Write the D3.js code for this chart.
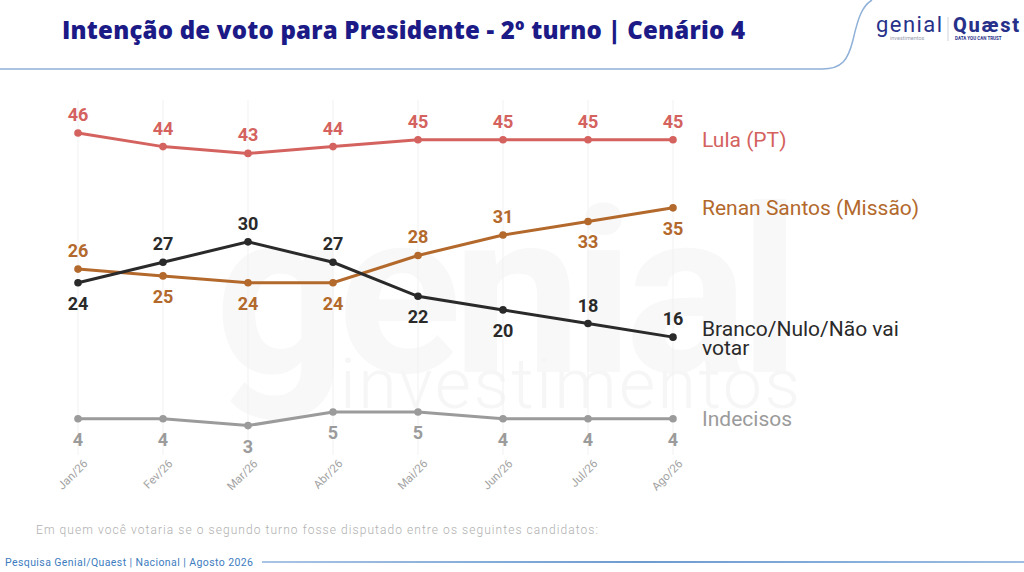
<!DOCTYPE html>
<html>
<head>
<meta charset="utf-8">
<script src="https://cdn.jsdelivr.net/npm/d3@7"></script>
<style>
  body { margin: 0; background: #fff; }
  svg { display: block; font-family: Roboto, "Noto Sans", sans-serif; }
</style>
</head>
<body>
<div id="chart"></div>
<script>
// data
const months = ['Jan/26', 'Fev/26', 'Mar/26', 'Abr/26', 'Mai/26', 'Jun/26', 'Jul/26', 'Ago/26'];
const lula = [46, 44, 43, 44, 45, 45, 45, 45];
const renan = [26, 25, 24, 24, 28, 31, 33, 35];
const branco = [24, 27, 30, 27, 22, 20, 18, 16];
const indecisos = [4, 4, 3, 5, 5, 4, 4, 4];
// label side for each point: 1 = above, -1 = below
const lulaSide = [1, 1, 1, 1, 1, 1, 1, 1];
const renanSide = [1, -1, -1, -1, 1, 1, -1, -1];
const brancoSide = [-1, 1, 1, 1, -1, -1, 1, 1];
const indecisosSide = [-1, -1, -1, -1, -1, -1, -1, -1];

const series = [
    {name: ['Lula (PT)'], values: lula, side: lulaSide, color: '#d4625e'},
    {name: ['Renan Santos (Missão)'], values: renan, side: renanSide, color: '#b3692c'},
    {name: ['Branco/Nulo/Não vai', 'votar'], values: branco, side: brancoSide, color: '#2a2a2a'},
    {name: ['Indecisos'], values: indecisos, side: indecisosSide, color: '#9b9b9b'}
];

const width = 1024, height = 572;
const svg = d3.select('#chart')
    .append('svg')
    .attr('width', width)
    .attr('height', height);

// watermark (very faint, behind everything)
svg.append('text')
    .attr('x', 215).attr('y', 372)
    .attr('font-size', 230)
    .attr('font-weight', 700)
    .attr('fill', '#f8f8f8')
    .attr('textLength', 585)
    .text('genial');
svg.append('text')
    .attr('x', 340).attr('y', 408)
    .attr('font-size', 70)
    .attr('font-weight', 300)
    .attr('fill', '#f6f6f6')
    .attr('textLength', 460)
    .text('investimentos');

// header
svg.append('text')
    .attr('x', 62).attr('y', 39)
    .attr('font-family', '"Open Sans", Roboto, sans-serif')
    .attr('font-size', 24)
    .attr('font-weight', 800)
    .attr('fill', '#1b1a86')
    .attr('textLength', 683)
    .text('Intenção de voto para Presidente - 2º turno | Cenário 4');

svg.append('path')
    .attr('d', 'M0,69 L822,69 C842,69 848,60 853,40 C858,18 862,6 872,0')
    .attr('fill', 'none')
    .attr('stroke', '#8fb0d8')
    .attr('stroke-width', 1.5);

// logo
const logo = svg.append('g').attr('transform', 'translate(876,0)');
logo.append('text').attr('x', 0).attr('y', 32)
    .attr('font-size', 22).attr('font-weight', 400).attr('fill', '#27318a')
    .attr('textLength', 66).text('genial');
logo.append('text').attr('x', 14).attr('y', 40)
    .attr('font-size', 5.5).attr('fill', '#9aa0b0').text('investimentos');
logo.append('line').attr('x1', 72).attr('x2', 72).attr('y1', 17).attr('y2', 41)
    .attr('stroke', '#cfd3dc');
logo.append('text').attr('x', 77).attr('y', 32)
    .attr('font-size', 20).attr('font-weight', 800).attr('fill', '#27318a')
    .attr('textLength', 66).text('Quæst');
logo.append('text').attr('x', 79).attr('y', 40)
    .attr('font-size', 4.5).attr('font-weight', 700).attr('fill', '#27318a').text('DATA YOU CAN TRUST');

// scales
const x = d3.scalePoint()
    .domain(months)
    .range([78, 673]);

const y = d3.scaleLinear()
    .domain([0, 46])
    .range([446, 133]);

// faint vertical grid
svg.append('g')
    .selectAll('line')
    .data(months)
    .join('line')
    .attr('x1', d => x(d)).attr('x2', d => x(d))
    .attr('y1', 100).attr('y2', 455)
    .attr('stroke', '#f1f1f1')
    .attr('stroke-width', 1);

// x axis, rotated labels
const xAxisGroup = svg.append('g')
    .attr('transform', 'translate(0,456)')
    .call(d3.axisBottom(x).tickSize(0).tickPadding(6));
xAxisGroup.select('.domain').remove();
xAxisGroup.selectAll('text')
    .attr('font-family', 'Roboto, sans-serif')
    .attr('font-size', 11.5)
    .attr('fill', '#a3a3a3')
    .attr('text-anchor', 'end')
    .attr('transform', 'rotate(-45)')
    .attr('dx', '0.1em')
    .attr('dy', '0.6em');

const line = d3.line()
    .x((d, i) => x(months[i]))
    .y(d => y(d));

series.forEach(function(s) {
    let g = svg.append('g');
    g.append('path')
        .datum(s.values)
        .attr('d', line)
        .attr('fill', 'none')
        .attr('stroke', s.color)
        .attr('stroke-width', 3);

    g.selectAll('circle')
        .data(s.values)
        .join('circle')
        .attr('cx', (d, i) => x(months[i]))
        .attr('cy', d => y(d))
        .attr('r', 3.8)
        .attr('fill', s.color);

    g.selectAll('text.val')
        .data(s.values)
        .join('text')
        .attr('class', 'val')
        .attr('x', (d, i) => x(months[i]))
        .attr('y', (d, i) => y(d) + (s.side[i] > 0 ? -12 : 27))
        .attr('text-anchor', 'middle')
        .attr('font-size', 18)
        .attr('font-weight', 700)
        .attr('fill', s.color)
        .text(d => d);

    // series name at right
    let last = s.values[s.values.length - 1];
    let lbl = g.append('text')
        .attr('x', 702)
        .attr('y', y(last) + 7 - (s.name.length - 1) * 8)
        .attr('font-size', 21)
        .attr('fill', s.color);
    s.name.forEach(function(t, i) {
        lbl.append('tspan')
            .attr('x', 702)
            .attr('dy', i === 0 ? 0 : 19)
            .text(t);
    });
});

// footnote
svg.append('text')
    .attr('x', 36).attr('y', 534)
    .attr('font-size', 12)
    .attr('font-weight', 300)
    .attr('fill', '#b0b0b0')
    .attr('textLength', 562)
    .text('Em quem você votaria se o segundo turno fosse disputado entre os seguintes candidatos:');

// footer
svg.append('text')
    .attr('x', 5).attr('y', 566)
    .attr('font-size', 10.5)
    .attr('fill', '#3d7cc0')
    .attr('textLength', 248)
    .text('Pesquisa Genial/Quaest | Nacional | Agosto 2026');

const grad = svg.append('defs').append('linearGradient')
    .attr('id', 'footGrad');
grad.append('stop').attr('offset', '0%').attr('stop-color', '#a9c4e4');
grad.append('stop').attr('offset', '50%').attr('stop-color', '#6d9bd0');
grad.append('stop').attr('offset', '100%').attr('stop-color', '#9dbde2');
svg.append('rect')
    .attr('x', 262).attr('y', 561)
    .attr('width', 762).attr('height', 2)
    .attr('fill', 'url(#footGrad)');
</script>
</body>
</html>
